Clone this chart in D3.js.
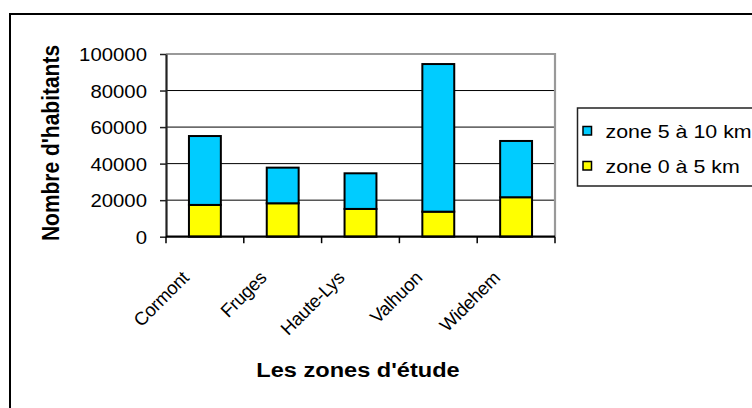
<!DOCTYPE html>
<html>
<head>
<meta charset="utf-8">
<script src="https://cdn.jsdelivr.net/npm/d3@7"></script>
<style>
  html, body { margin: 0; padding: 0; background: #fff; }
  svg { display: block; font-family: "Liberation Sans", Arial, sans-serif; }
</style>
</head>
<body>
<svg id="chart" width="752" height="408"></svg>
<script>
// Population by study zone, stacked by distance band
const categories = ["Cormont", "Fruges", "Haute-Lys", "Valhuon", "Widehem"];
const zone0to5 = [17400, 18300, 15200, 13700, 21600];
const zone5to10 = [37700, 19500, 19500, 80800, 30800];
const yTicks = [0, 20000, 40000, 60000, 80000, 100000];
const seriesNames = ["zone 0 à 5 km", "zone 5 à 10 km"];
const seriesColors = ["#ffff00", "#00ccff"];

const STRETCH = 1.15; // horizontal widening of text
const svg = d3.select("#chart");

const plot = { left: 166, right: 555, top: 54, bottom: 236.7 };

const x = d3.scaleBand()
  .domain(categories)
  .range([plot.left, plot.right])
  .paddingInner(0.59)
  .paddingOuter(0.295);

const y = d3.scaleLinear()
  .domain([0, 100000])
  .range([plot.bottom, plot.top]);

// outer chart frame (only top and left edges fall inside the view)
svg.append("path")
  .attr("d", "M10,408 V14 H752")
  .attr("fill", "none")
  .attr("stroke", "#000")
  .attr("stroke-width", 2);

// horizontal gridlines
svg.append("g")
  .selectAll("line")
  .data(yTicks.filter(t => t > 0 && t < 100000))
  .join("line")
  .attr("x1", plot.left).attr("x2", plot.right)
  .attr("y1", d => y(d)).attr("y2", d => y(d))
  .attr("stroke", "#000").attr("stroke-width", 1);

// plot area frame: top and right edges in grey
svg.append("path")
  .attr("d", `M${plot.left},${y(100000)} H${plot.right} V${plot.bottom}`)
  .attr("fill", "none")
  .attr("stroke", "#999")
  .attr("stroke-width", 2.2);

// stacked bars
const stacked = d3.stack().keys([0, 1]).value((d, k) => d[k])(
  categories.map((c, i) => [zone0to5[i], zone5to10[i]])
);

stacked.forEach((layer, li) => {
  svg.append("g")
    .selectAll("rect")
    .data(layer)
    .join("rect")
    .attr("x", (d, i) => x(categories[i]))
    .attr("width", x.bandwidth())
    .attr("y", d => y(d[1]))
    .attr("height", d => y(d[0]) - y(d[1]))
    .attr("fill", seriesColors[li])
    .attr("stroke", "#000")
    .attr("stroke-width", 2);
});

// y axis
const yAxis = svg.append("g")
  .attr("transform", `translate(${plot.left},0)`)
  .call(d3.axisLeft(y).tickValues(yTicks).tickSize(6).tickSizeOuter(0).tickFormat(d3.format("d")));
yAxis.select(".domain").attr("stroke", "#222").attr("stroke-width", 2.2);
yAxis.selectAll(".tick line").attr("stroke", "#222").attr("stroke-width", 1.5);
yAxis.selectAll(".tick text")
  .attr("x", null).attr("dy", null)
  .attr("transform", "translate(-19,6.5) scale(" + STRETCH + ",1)")
  .attr("font-size", 17.7)
  .attr("font-family", "Liberation Sans, Arial, sans-serif")
  .attr("fill", "#000");

// x axis with ticks between categories
const step = x.step();
const boundaries = categories.map(c => x(c) - step * x.paddingInner() / 2);
boundaries.push(plot.right);
svg.append("line")
  .attr("x1", plot.left).attr("x2", plot.right)
  .attr("y1", plot.bottom).attr("y2", plot.bottom)
  .attr("stroke", "#000").attr("stroke-width", 2.2);
svg.append("g")
  .selectAll("line")
  .data(boundaries)
  .join("line")
  .attr("x1", d => d).attr("x2", d => d)
  .attr("y1", plot.bottom).attr("y2", plot.bottom + 6.5)
  .attr("stroke", "#000").attr("stroke-width", 1.5);

// rotated category labels
svg.append("g")
  .selectAll("text")
  .data(categories)
  .join("text")
  .attr("transform", d => `translate(${x(d) + x.bandwidth() / 2 - 15},279) rotate(-45)`)
  .attr("text-anchor", "end")
  .attr("font-size", 18.5)
  .attr("letter-spacing", -0.3)
  .text(d => d);

// axis titles
svg.append("text")
  .attr("transform", `translate(59,143) scale(${STRETCH},1) rotate(-90)`)
  .attr("text-anchor", "middle")
  .attr("font-weight", "bold")
  .attr("font-size", 21)
  .text("Nombre d'habitants");

svg.append("text")
  .attr("transform", `translate(358,377) scale(${STRETCH},1)`)
  .attr("text-anchor", "middle")
  .attr("font-weight", "bold")
  .attr("font-size", 20.5)
  .text("Les zones d'étude");

// legend (outer series listed first)
svg.append("path")
  .attr("d", "M752,108 H577.5 V186 H752")
  .attr("fill", "none")
  .attr("stroke", "#222")
  .attr("stroke-width", 1.5);

const legendOrder = [1, 0];
const legend = svg.append("g")
  .selectAll("g")
  .data(legendOrder)
  .join("g")
  .attr("transform", (d, i) => `translate(0,${131 + i * 35})`);
legend.append("rect")
  .attr("x", 583).attr("y", -4.5)
  .attr("width", 8.5).attr("height", 8.5)
  .attr("fill", d => seriesColors[d])
  .attr("stroke", "#000").attr("stroke-width", 1.5);
legend.append("text")
  .attr("transform", `translate(605.5,6.5) scale(${STRETCH},1)`)
  .attr("font-size", 18.6)
  .text(d => seriesNames[d]);
</script>
</body>
</html>
